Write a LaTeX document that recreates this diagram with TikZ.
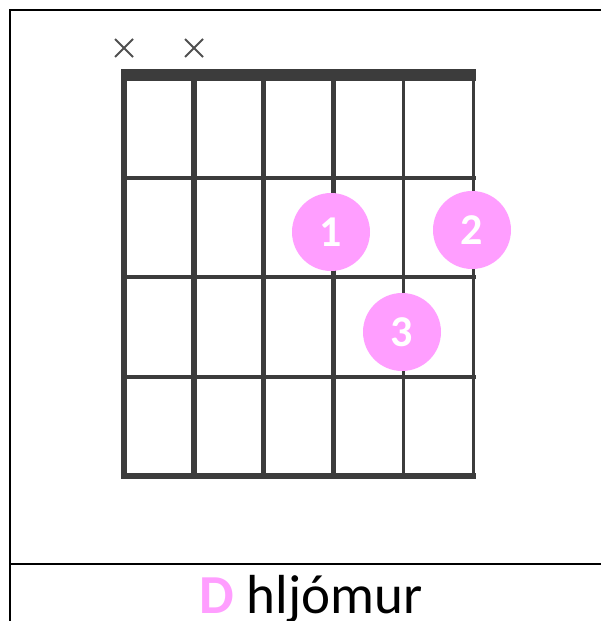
\documentclass[tikz,border=0pt]{standalone}
\usepackage{fontspec}
\setmainfont{Carlito}
\usepackage{xcolor}
\usepackage{tikz}
\usetikzlibrary{shapes.misc}

\definecolor{fingerpink}{HTML}{FF9EFF}
\definecolor{gridgray}{HTML}{3C3C3C}

\begin{document}
\begin{tikzpicture}[x=1pt,y=-1pt,
    finger/.style={circle,fill=fingerpink,minimum size=78pt,inner sep=0pt,
      text=white,font=\bfseries\fontsize{44}{44}\selectfont},
    muted/.style={cross out,draw=gridgray!90,line width=2pt,minimum size=16pt,inner sep=0pt}]
  \useasboundingbox (0,0) rectangle (601,621);
  % frame
  \draw[line width=2pt] (601,10) -- (10,10) -- (10,621);
  \draw[line width=2pt] (10,564) -- (601,564);
  % strings and frets
  \foreach \i/\w in {0/5.5,1/5.5,2/4.5,3/4.5,4/3,5/3}
    \draw[gridgray,line width=\w pt] (124+69.8*\i,75) -- (124+69.8*\i,476);
  \foreach \y in {178,277,377}
    \draw[gridgray,line width=4pt] (121,\y) -- (476,\y);
  \draw[gridgray,line width=6pt] (121,476) -- (476,476);
  \fill[gridgray] (121,69) rectangle (476,81);
  % muted strings
  \node[muted] (mute1) at (124,48) {};
  \node[muted] (mute2) at (194,48) {};
  % fingers
  \node[finger] (f1) at (331,232) {1};
  \node[finger] (f2) at (472,230) {2};
  \node[finger] (f3) at (402,332) {3};
  % caption
  \node[anchor=base,inner sep=0pt,font=\fontsize{55}{60}\selectfont] (caption) at (311,613)
    {{\bfseries\color{fingerpink}D} hljómur};
\end{tikzpicture}
\end{document}
